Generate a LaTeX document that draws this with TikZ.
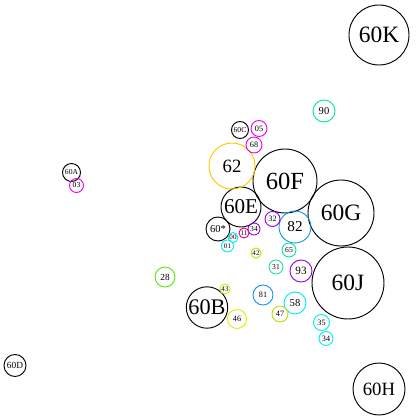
\documentclass[tikz,border=0pt]{standalone}
\usepackage{fontspec}
\setmainfont{Liberation Serif}
\definecolor{CyanClr}{RGB}{0,235,245}
\definecolor{MagClr}{RGB}{240,0,240}
\definecolor{PinkClr}{RGB}{240,0,140}
\definecolor{PurpClr}{RGB}{150,0,240}
\definecolor{BlueClr}{RGB}{20,150,245}
\definecolor{SprClr}{RGB}{0,230,160}
\definecolor{AquaClr}{RGB}{40,220,170}
\definecolor{GoldClr}{RGB}{255,200,0}
\definecolor{YelClr}{RGB}{225,235,0}
\definecolor{LimeClr}{RGB}{190,225,0}
\definecolor{GrnClr}{RGB}{100,230,20}

\tikzset{
  bub/.style={circle,draw,line width=0.8pt,inner sep=0pt,minimum size=#1*0.06cm},
  lbl/.style={font=\fontsize{#1}{#1}\selectfont}
}

\begin{document}
\begin{tikzpicture}[x=0.03cm,y=-0.03cm]
\useasboundingbox (0,0) rectangle (415,419);

% large groups
\node[bub=30,lbl=20pt] (b60K) at (379,35) {60K};
\node[bub=32,lbl=21pt] (b60F) at (285,181) {60F};
\node[bub=33,lbl=20pt] (b60G) at (341,213) {60G};
\node[bub=36,lbl=20pt] (b60J) at (348,283) {60J};
\node[bub=20,lbl=18pt] (b60E) at (241,207) {60E};
\node[bub=20.7,lbl=19pt] (b60B) at (207,307.5) {60B};
\node[bub=26,lbl=16pt] (b60H) at (379,389) {60H};
\node[bub=23,lbl=16pt,GoldClr,text=black] (b62) at (232,166) {62};
\node[bub=16,lbl=13pt,BlueClr,text=black] (b82) at (295,227) {82};

% small ones
\node[bub=12,lbl=9pt] (b60x) at (218,229) {60*};
\node[bub=8.5,lbl=6.5pt] (b60C) at (240,130) {60C};
\node[bub=9,lbl=6.5pt] (b60A) at (71.5,172.5) {60A};
\node[bub=11,lbl=8pt] (b60D) at (15,365.5) {60D};
\node[bub=11,lbl=9pt,SprClr,text=black] (b90) at (324,111) {90};
\node[bub=8,lbl=7pt,MagClr,text=black] (b05) at (259,128.5) {05};
\node[bub=8,lbl=7pt,MagClr,text=black] (b68) at (254,145) {68};
\node[bub=7,lbl=6.5pt,MagClr,text=black] (b03) at (76.5,185.5) {03};
\node[bub=7.5,lbl=7pt,PurpClr,text=black] (b32) at (272.5,219) {32};
\node[bub=6,lbl=6.5pt,PurpClr,text=black] (b34) at (254,229) {34};
\node[bub=11,lbl=9.5pt,PurpClr,text=black] (b93) at (301,271) {93};
\node[bub=5,lbl=6pt,PinkClr,text=black] (b11) at (244,233) {11};
\node[bub=5,lbl=6pt,CyanClr,text=black] (b00) at (233,237.5) {00};
\node[bub=6,lbl=6pt,CyanClr,text=black] (b01) at (227.5,246) {01};
\node[bub=5,lbl=6pt,LimeClr,text=black] (b42) at (256,253) {42};
\node[bub=7,lbl=6.5pt,SprClr,text=black] (b65) at (289,250) {65};
\node[bub=7,lbl=6.5pt,AquaClr,text=black] (b31) at (276,267) {31};
\node[bub=10,lbl=8pt,GrnClr,text=black] (b28) at (165,277) {28};
\node[bub=5,lbl=6pt,YelClr,text=black] (b43) at (225,289) {43};
\node[bub=9.5,lbl=7pt,YelClr,text=black] (b46) at (237,319) {46};
\node[bub=10,lbl=7pt,BlueClr,text=black] (b81) at (263,295) {81};
\node[bub=11,lbl=9pt,CyanClr,text=black] (b58) at (295,303) {58};
\node[bub=8,lbl=7pt,LimeClr,text=black] (b47) at (280,314) {47};
\node[bub=8,lbl=7pt,CyanClr,text=black] (b35) at (321.5,322.5) {35};
\node[bub=7,lbl=7pt,CyanClr,text=black] (b34b) at (326,338.5) {34};
\end{tikzpicture}
\end{document}
